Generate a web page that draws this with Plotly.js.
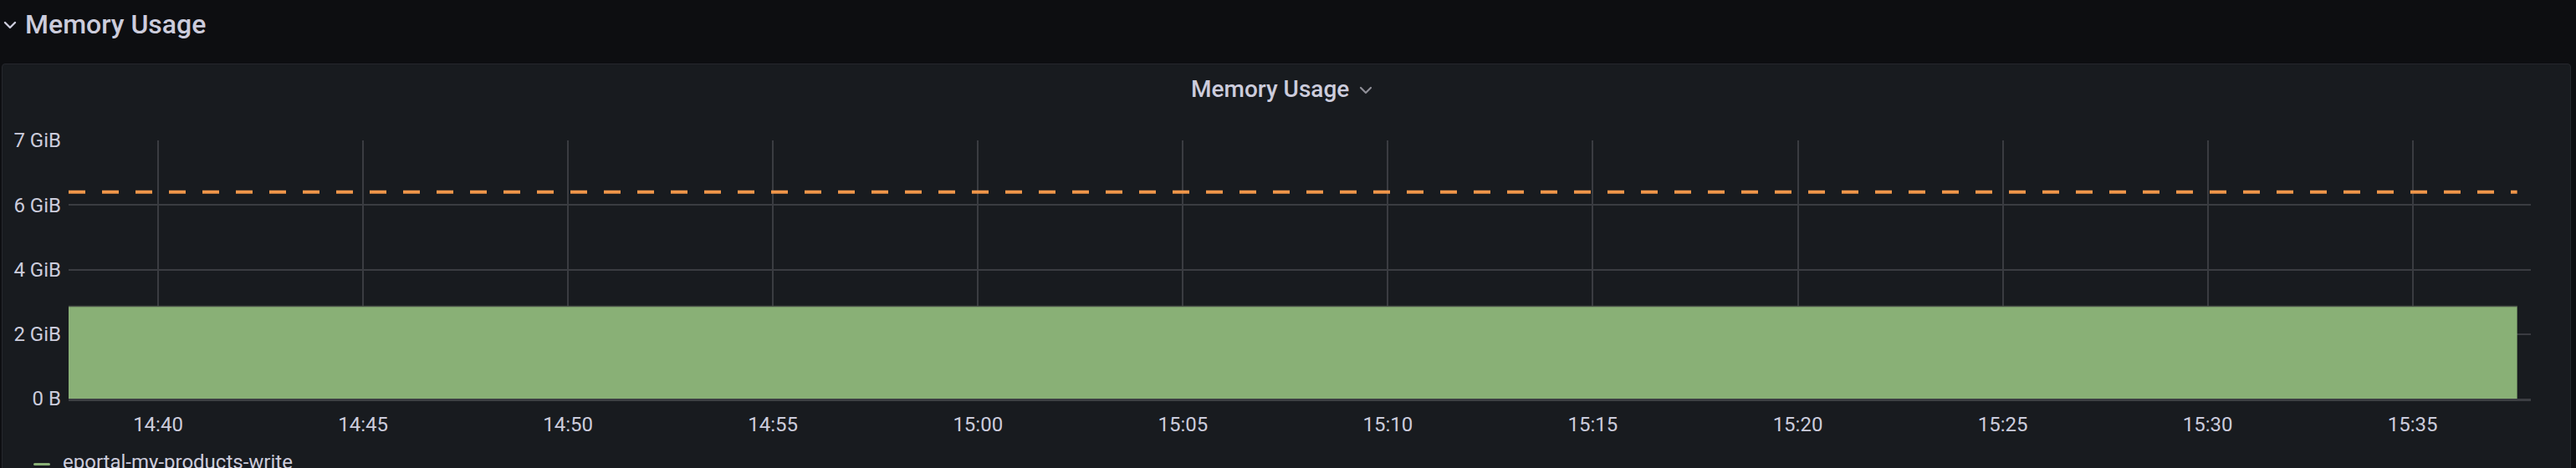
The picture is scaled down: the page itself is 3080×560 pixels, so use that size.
<!DOCTYPE html>
<html>
<head>
<meta charset="utf-8">
<script src="https://cdn.plot.ly/plotly-3.0.1.min.js"></script>
<style>
  html, body { margin:0; padding:0; width:3080px; height:560px; overflow:hidden; background:#0d0e11; font-family: Roboto, "Noto Sans", sans-serif; }
  #panel { position:absolute; left:2px; top:76px; width:3072px; height:520px; background:#181b1f; border:1px solid #25272d; border-radius:4px; box-sizing:border-box; }
  #rowtitle { position:absolute; left:30px; top:13px; font-size:32px; line-height:32px; font-weight:500; color:#ccccdc; white-space:nowrap; }
  #rowchev { position:absolute; left:4px; top:24px; }
  #ptitle { position:absolute; left:1424px; top:93px; font-size:28px; line-height:28px; font-weight:500; color:#ccccdc; white-space:nowrap; }
  #pchev { position:absolute; left:1624px; top:101px; }
  #chart { position:absolute; left:0; top:0; width:3080px; height:560px; }
  #legend { position:absolute; left:40px; top:541px; height:24px; white-space:nowrap; }
  #legline { position:absolute; left:0; top:13px; width:20px; height:3px; border-radius:2px; background:#89b076; }
  #legtext { position:absolute; left:35px; top:0; font-size:24px; line-height:24px; color:#ccccdc; }
</style>
</head>
<body>
<svg id="rowchev" width="16" height="12" viewBox="0 0 16 12"><polyline points="2,3 8,9 14,3" fill="none" stroke="#ccccdc" stroke-width="2.4" stroke-linecap="round" stroke-linejoin="round"/></svg>
<div id="rowtitle">Memory Usage</div>
<div id="panel"></div>
<div id="ptitle">Memory Usage</div>
<svg id="pchev" width="18" height="14" viewBox="0 0 18 14"><polyline points="3,4 9,10 15,4" fill="none" stroke="#8e8e97" stroke-width="2.2" stroke-linecap="round" stroke-linejoin="round"/></svg>
<div id="chart"></div>
<div id="legend"><div id="legline"></div><div id="legtext">eportal-my-products-write</div></div>
<script>
// ---- data ----
const seriesName = "eportal-my-products-write";
const times = ["2024-01-01 14:37:49", "2024-01-01 14:50:00", "2024-01-01 15:05:00", "2024-01-01 15:20:00", "2024-01-01 15:37:33"];
const usageBytes = [2.86e9, 2.86e9, 2.86e9, 2.86e9, 2.86e9];
const limitBytes = [6.4e9, 6.4e9, 6.4e9, 6.4e9, 6.4e9];
const yTickVals = [0, 2e9, 4e9, 6e9, 8e9];
const yTickText = ["0 B", "2 GiB", "4 GiB", "6 GiB", "7 GiB"];
const xRange = ["2024-01-01 14:37:49", "2024-01-01 15:37:53"];

const traces = [
  {
    x: times, y: usageBytes, name: seriesName, type: "scatter", mode: "lines",
    fill: "tozeroy", fillcolor: "#89b076",
    line: { color: "#4a5247", width: 1.5, shape: "hv" },
    hoverinfo: "skip"
  },
  {
    x: times, y: limitBytes, name: "limit", type: "scatter", mode: "lines",
    line: { color: "#f0964a", width: 4, dash: "20px,20px" },
    hoverinfo: "skip"
  }
];

const layout = {
  width: 3080, height: 560,
  margin: { l: 82, r: 54, t: 168, b: 83 },
  paper_bgcolor: "rgba(0,0,0,0)", plot_bgcolor: "rgba(0,0,0,0)",
  showlegend: false,
  font: { family: "Roboto, sans-serif", color: "#ccccdc", size: 24 },
  xaxis: {
    type: "date", range: xRange,
    tick0: "2024-01-01 14:40:00", dtick: 300000, tickformat: "%H:%M",
    showgrid: true, gridcolor: "#3a3c41", gridwidth: 2,
    showline: true, linecolor: "#3c3e43", linewidth: 3,
    zeroline: false, ticks: "", ticklabelstandoff: 7,
    tickfont: { size: 24, color: "#ccccdc" }
  },
  yaxis: {
    range: [0, 8e9], tickmode: "array", tickvals: yTickVals, ticktext: yTickText,
    showgrid: true, gridcolor: "#3a3c41", gridwidth: 2,
    zeroline: false, showline: false, ticks: "", ticklabelstandoff: 8,
    tickfont: { size: 24, color: "#ccccdc" }
  }
};

Plotly.newPlot("chart", traces, layout, { staticPlot: true, displayModeBar: false });
</script>
</body>
</html>
